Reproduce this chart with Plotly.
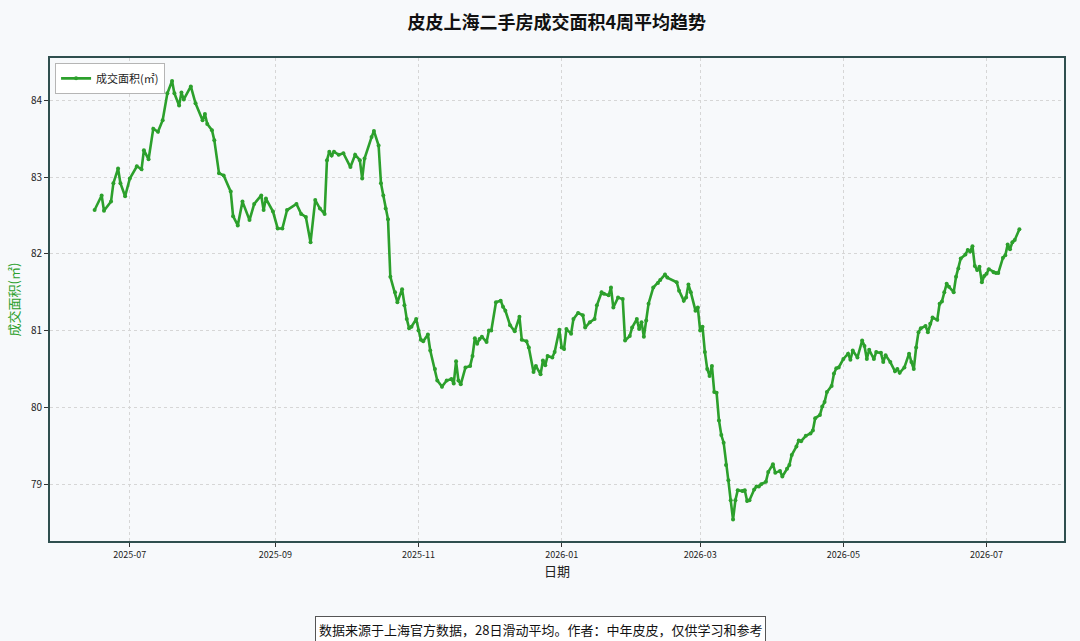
import plotly.graph_objects as go

# 4-week rolling average of transaction area
dates = [
    "2025-06-16", "2025-06-19", "2025-06-20", "2025-06-23", "2025-06-24", "2025-06-26",
    "2025-06-27", "2025-06-29", "2025-07-01", "2025-07-04", "2025-07-06", "2025-07-07",
    "2025-07-09", "2025-07-11", "2025-07-13", "2025-07-15", "2025-07-17", "2025-07-19",
    "2025-07-20", "2025-07-22", "2025-07-23", "2025-07-24", "2025-07-27", "2025-07-29",
    "2025-08-01", "2025-08-02", "2025-08-03", "2025-08-05", "2025-08-06", "2025-08-08",
    "2025-08-10", "2025-08-13", "2025-08-14", "2025-08-16", "2025-08-18", "2025-08-21",
    "2025-08-23", "2025-08-26", "2025-08-27", "2025-08-28", "2025-08-31", "2025-09-02",
    "2025-09-04", "2025-09-06", "2025-09-10", "2025-09-12", "2025-09-14", "2025-09-16",
    "2025-09-18", "2025-09-20", "2025-09-22", "2025-09-23", "2025-09-24", "2025-09-25",
    "2025-09-26", "2025-09-28", "2025-09-30", "2025-10-03", "2025-10-05", "2025-10-07",
    "2025-10-08", "2025-10-09", "2025-10-12", "2025-10-13", "2025-10-15", "2025-10-16",
    "2025-10-17", "2025-10-18", "2025-10-19", "2025-10-20", "2025-10-22", "2025-10-23",
    "2025-10-25", "2025-10-26", "2025-10-27", "2025-10-28", "2025-10-29", "2025-10-31",
    "2025-11-01", "2025-11-02", "2025-11-03", "2025-11-05", "2025-11-06", "2025-11-08",
    "2025-11-09", "2025-11-11", "2025-11-13", "2025-11-15", "2025-11-16", "2025-11-17",
    "2025-11-18", "2025-11-19", "2025-11-21", "2025-11-23", "2025-11-24", "2025-11-25",
    "2025-11-26", "2025-11-27", "2025-11-28", "2025-11-30", "2025-12-01", "2025-12-02",
    "2025-12-04", "2025-12-06", "2025-12-07", "2025-12-08", "2025-12-10", "2025-12-12",
    "2025-12-14", "2025-12-15", "2025-12-17", "2025-12-18", "2025-12-20", "2025-12-21",
    "2025-12-23", "2025-12-24", "2025-12-25", "2025-12-26", "2025-12-28", "2025-12-29",
    "2025-12-31", "2026-01-01", "2026-01-02", "2026-01-03", "2026-01-05", "2026-01-06",
    "2026-01-08", "2026-01-10", "2026-01-11", "2026-01-13", "2026-01-15", "2026-01-16",
    "2026-01-18", "2026-01-19", "2026-01-21", "2026-01-22", "2026-01-23", "2026-01-25",
    "2026-01-27", "2026-01-28", "2026-01-30", "2026-01-31", "2026-02-02", "2026-02-03",
    "2026-02-04", "2026-02-05", "2026-02-06", "2026-02-07", "2026-02-09", "2026-02-11",
    "2026-02-12", "2026-02-14", "2026-02-15", "2026-02-19", "2026-02-20", "2026-02-22",
    "2026-02-23", "2026-02-24", "2026-02-25", "2026-02-27", "2026-02-28", "2026-03-01",
    "2026-03-02", "2026-03-03", "2026-03-04", "2026-03-05", "2026-03-06", "2026-03-07",
    "2026-03-08", "2026-03-09", "2026-03-10", "2026-03-11", "2026-03-12", "2026-03-13",
    "2026-03-14", "2026-03-15", "2026-03-16", "2026-03-17", "2026-03-19", "2026-03-20",
    "2026-03-21", "2026-03-22", "2026-03-24", "2026-03-25", "2026-03-26", "2026-03-27",
    "2026-03-29", "2026-03-30", "2026-04-01", "2026-04-02", "2026-04-04", "2026-04-05",
    "2026-04-07", "2026-04-08", "2026-04-09", "2026-04-11", "2026-04-12", "2026-04-13",
    "2026-04-15", "2026-04-17", "2026-04-18", "2026-04-19", "2026-04-21", "2026-04-22",
    "2026-04-23", "2026-04-24", "2026-04-26", "2026-04-27", "2026-04-28", "2026-04-29",
    "2026-05-01", "2026-05-03", "2026-05-04", "2026-05-05", "2026-05-07", "2026-05-09",
    "2026-05-10", "2026-05-11", "2026-05-12", "2026-05-14", "2026-05-15", "2026-05-17",
    "2026-05-18", "2026-05-19", "2026-05-21", "2026-05-23", "2026-05-24", "2026-05-25",
    "2026-05-27", "2026-05-29", "2026-05-30", "2026-05-31", "2026-06-01", "2026-06-02",
    "2026-06-03", "2026-06-05", "2026-06-06", "2026-06-07", "2026-06-08", "2026-06-10",
    "2026-06-11", "2026-06-12", "2026-06-13", "2026-06-14", "2026-06-15", "2026-06-17",
    "2026-06-18", "2026-06-19", "2026-06-20", "2026-06-22", "2026-06-23", "2026-06-24",
    "2026-06-25", "2026-06-26", "2026-06-27", "2026-06-28", "2026-06-29", "2026-06-30",
    "2026-07-01", "2026-07-02", "2026-07-04", "2026-07-05", "2026-07-06", "2026-07-08",
    "2026-07-09", "2026-07-10", "2026-07-11", "2026-07-12", "2026-07-13", "2026-07-15",
]

area = [
    82.57, 82.76, 82.56, 82.68, 82.92, 83.11,
    82.92, 82.75, 82.98, 83.14, 83.10, 83.35,
    83.23, 83.63, 83.59, 83.74, 84.09, 84.25,
    84.09, 83.93, 84.10, 84.01, 84.18, 83.96,
    83.74, 83.82, 83.69, 83.61, 83.48, 83.05,
    83.02, 82.81, 82.49, 82.37, 82.68, 82.44,
    82.65, 82.76, 82.57, 82.72, 82.55, 82.33,
    82.33, 82.57, 82.65, 82.52, 82.48, 82.15,
    82.70, 82.59, 82.52, 83.22, 83.33, 83.28,
    83.33, 83.29, 83.31, 83.13, 83.29, 83.22,
    82.98, 83.24, 83.52, 83.60, 83.41, 82.92,
    82.76, 82.59, 82.45, 81.70, 81.50, 81.37,
    81.54, 81.33, 81.15, 81.03, 81.05, 81.15,
    81.00, 80.88, 80.86, 80.95, 80.74, 80.50,
    80.35, 80.27, 80.35, 80.37, 80.31, 80.60,
    80.35, 80.30, 80.52, 80.54, 80.67, 80.90,
    80.83, 80.89, 80.92, 80.85, 81.00, 81.00,
    81.37, 81.39, 81.31, 81.26, 81.07, 80.99,
    81.18, 80.88, 80.86, 80.78, 80.46, 80.54,
    80.43, 80.61, 80.55, 80.67, 80.65, 80.72,
    81.01, 80.78, 80.76, 81.02, 80.96, 81.15,
    81.23, 81.20, 81.04, 81.11, 81.15, 81.33,
    81.50, 81.48, 81.46, 81.56, 81.30, 81.43,
    81.41, 80.87, 80.93, 81.04, 81.15, 81.02,
    81.11, 80.92, 81.13, 81.35, 81.56, 81.62,
    81.66, 81.73, 81.69, 81.63, 81.52, 81.39,
    81.43, 81.60, 81.50, 81.26, 81.30, 81.00,
    81.05, 80.72, 80.50, 80.41, 80.54, 80.20,
    80.19, 79.83, 79.64, 79.54, 79.25, 79.05,
    78.79, 78.54, 78.79, 78.92, 78.91, 78.92,
    78.78, 78.79, 78.93, 78.97, 78.97, 79.00,
    79.03, 79.16, 79.26, 79.15, 79.17, 79.10,
    79.20, 79.25, 79.38, 79.49, 79.57, 79.56,
    79.63, 79.66, 79.70, 79.86, 79.90, 80.01,
    80.07, 80.20, 80.28, 80.44, 80.51, 80.52,
    80.63, 80.70, 80.62, 80.74, 80.65, 80.87,
    80.80, 80.63, 80.75, 80.63, 80.72, 80.71,
    80.59, 80.68, 80.59, 80.47, 80.50, 80.45,
    80.52, 80.70, 80.59, 80.50, 80.78, 80.98,
    81.03, 81.06, 80.98, 81.09, 81.17, 81.14,
    81.35, 81.38, 81.50, 81.61, 81.57, 81.50,
    81.70, 81.81, 81.94, 81.99, 82.05, 82.03,
    82.10, 81.84, 81.79, 81.83, 81.63, 81.71,
    81.74, 81.80, 81.76, 81.75, 81.75, 81.95,
    81.98, 82.12, 82.06, 82.15, 82.18, 82.32,
]

FONT = "Noto Sans CJK SC"
GREEN = "#2ca02c"
FRAME = "#2f4f4f"
BG = "#f7f9fb"
GRID = "#d6d6d6"

fig = go.Figure()

fig.add_trace(go.Scatter(
    x=dates,
    y=area,
    mode="lines+markers",
    name="成交面积(㎡)",
    line=dict(color=GREEN, width=2.6),
    marker=dict(color=GREEN, size=4),
))

fig.update_layout(
    width=1080,
    height=641,
    margin=dict(l=50, r=16, t=58, b=100),
    paper_bgcolor=BG,
    plot_bgcolor=BG,
    font=dict(family=FONT, color="#222222"),
    title=dict(
        text="<b>皮皮上海二手房成交面积4周平均趋势</b>",
        x=0.5155, xanchor="center", y=0.965, yanchor="middle",
        font=dict(size=18, color="#111111"),
    ),
    showlegend=True,
    legend=dict(
        x=0.005, y=0.99, xanchor="left", yanchor="top",
        bgcolor="#ffffff", bordercolor="#b5b5b5", borderwidth=1,
        font=dict(size=11),
    ),
)

fig.update_xaxes(
    range=["2025-05-28", "2026-08-03"],
    tick0="2025-07-01", dtick="M2", tickformat="%Y-%m",
    tickfont=dict(size=9),
    ticks="outside", ticklen=4, tickcolor="#333333",
    showgrid=True, gridcolor=GRID, griddash="3px,3px", gridwidth=1,
    showline=True, linecolor=FRAME, linewidth=2, mirror=True,
    zeroline=False,
    title=dict(text="日期", font=dict(size=13), standoff=6),
)

fig.update_yaxes(
    range=[78.26, 84.55],
    dtick=1,
    tickfont=dict(size=10),
    ticks="outside", ticklen=4, tickcolor="#333333",
    showgrid=True, gridcolor=GRID, griddash="3px,3px", gridwidth=1,
    showline=True, linecolor=FRAME, linewidth=2, mirror=True,
    zeroline=False,
    title=dict(text="成交面积(㎡)", font=dict(size=13, color=GREEN), standoff=8),
)

fig.add_annotation(
    text="数据来源于上海官方数据，28日滑动平均。作者：中年皮皮，仅供学习和参考",
    xref="paper", yref="paper", x=0.484, y=-0.184,
    xanchor="center", yanchor="middle",
    showarrow=False,
    font=dict(size=13, color="#111111"),
    bgcolor="#ffffff", bordercolor="#555555", borderwidth=1, borderpad=3,
)

# drop the default 8px page margin so the figure sits at the window corner
fig.write_html(
    "out.html",
    config={"displayModeBar": False},
    post_script="document.body.style.margin='0';",
)
